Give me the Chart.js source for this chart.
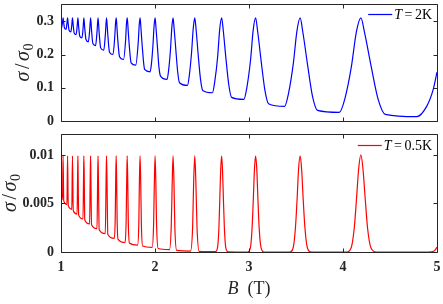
<!DOCTYPE html>
<html>
<head>
<meta charset="utf-8">
<script src="https://cdn.jsdelivr.net/npm/chart.js@4/dist/chart.umd.min.js"></script>
<style>
  html, body { margin: 0; padding: 0; background: #fff; }
  #wrap { position: relative; width: 443px; height: 304px; }
  canvas { position: absolute; left: 0; }
  #top { top: 0; }
  #bottom { top: 128px; }
</style>
</head>
<body>
<div id="wrap">
  <canvas id="top" width="443" height="128"></canvas>
  <canvas id="bottom" width="443" height="176"></canvas>
</div>
<script>
// Values: sigma/sigma0 against B (T)

// T = 2K panel
const bTop = [
  1.000, 1.008, 1.016, 1.022, 1.029, 1.037, 1.054, 1.063, 1.070, 1.077,
  1.086, 1.105, 1.115, 1.122, 1.130, 1.140, 1.161, 1.172, 1.180, 1.188,
  1.200, 1.223, 1.235, 1.243, 1.253, 1.266, 1.291, 1.305, 1.315, 1.325,
  1.339, 1.368, 1.383, 1.394, 1.406, 1.422, 1.455, 1.472, 1.484, 1.498,
  1.516, 1.553, 1.572, 1.580, 1.587, 1.593, 1.602, 1.623, 1.665, 1.688,
  1.696, 1.704, 1.711, 1.722, 1.746, 1.795, 1.822, 1.832, 1.841, 1.849,
  1.862, 1.890, 1.947, 1.962, 1.978, 1.990, 2.001, 2.010, 2.026, 2.042,
  2.059, 2.128, 2.145, 2.165, 2.179, 2.192, 2.203, 2.222, 2.242, 2.261,
  2.345, 2.365, 2.389, 2.407, 2.423, 2.437, 2.459, 2.484, 2.508, 2.611,
  2.636, 2.667, 2.688, 2.709, 2.726, 2.754, 2.785, 2.815, 2.946, 2.978,
  3.017, 3.044, 3.070, 3.092, 3.129, 3.169, 3.208, 3.378, 3.421, 3.472,
  3.509, 3.544, 3.573, 3.622, 3.675, 3.729, 3.960, 4.019, 4.090, 4.141,
  4.190, 4.230, 4.299, 4.374, 4.450, 4.785, 4.890, 4.960, 5.000
];
const sigmaTop = [
  0.275, 0.283, 0.296, 0.310, 0.295, 0.280, 0.276, 0.293, 0.310, 0.291,
  0.273, 0.268, 0.289, 0.310, 0.288, 0.265, 0.260, 0.285, 0.310, 0.283,
  0.255, 0.250, 0.279, 0.310, 0.278, 0.245, 0.238, 0.273, 0.310, 0.272,
  0.233, 0.227, 0.268, 0.310, 0.265, 0.220, 0.213, 0.260, 0.310, 0.259,
  0.207, 0.200, 0.254, 0.293, 0.310, 0.292, 0.252, 0.193, 0.185, 0.246,
  0.291, 0.310, 0.289, 0.243, 0.175, 0.168, 0.238, 0.288, 0.310, 0.286,
  0.233, 0.155, 0.148, 0.172, 0.227, 0.285, 0.310, 0.283, 0.223, 0.162,
  0.135, 0.125, 0.153, 0.216, 0.281, 0.310, 0.280, 0.213, 0.146, 0.115,
  0.107, 0.137, 0.206, 0.279, 0.310, 0.276, 0.201, 0.126, 0.092, 0.085,
  0.119, 0.195, 0.275, 0.310, 0.273, 0.190, 0.109, 0.071, 0.065, 0.102,
  0.185, 0.272, 0.310, 0.270, 0.181, 0.093, 0.052, 0.044, 0.084, 0.174,
  0.269, 0.310, 0.267, 0.171, 0.075, 0.032, 0.026, 0.066, 0.165, 0.266,
  0.310, 0.265, 0.165, 0.065, 0.020, 0.013, 0.044, 0.095, 0.147
];

// T = 0.5K panel
const bBottom = [
  1.000, 1.006, 1.016, 1.022, 1.029, 1.063, 1.070, 1.077, 1.115, 1.122,
  1.130, 1.171, 1.177, 1.180, 1.182, 1.188, 1.234, 1.240, 1.243, 1.247,
  1.253, 1.304, 1.311, 1.315, 1.318, 1.325, 1.383, 1.390, 1.394, 1.398,
  1.406, 1.471, 1.480, 1.484, 1.489, 1.498, 1.567, 1.577, 1.582, 1.587,
  1.592, 1.597, 1.607, 1.682, 1.693, 1.699, 1.704, 1.710, 1.716, 1.728,
  1.814, 1.828, 1.834, 1.841, 1.848, 1.855, 1.868, 1.970, 1.985, 1.993,
  2.001, 2.009, 2.017, 2.034, 2.154, 2.173, 2.183, 2.192, 2.202, 2.211,
  2.231, 2.377, 2.400, 2.411, 2.423, 2.435, 2.447, 2.471, 2.644, 2.665,
  2.680, 2.690, 2.699, 2.709, 2.718, 2.727, 2.738, 2.753, 2.776, 2.988,
  3.015, 3.033, 3.047, 3.058, 3.070, 3.083, 3.094, 3.108, 3.128, 3.158,
  3.434, 3.470, 3.494, 3.513, 3.527, 3.544, 3.560, 3.575, 3.595, 3.621,
  3.660, 4.037, 4.087, 4.120, 4.146, 4.167, 4.190, 4.212, 4.234, 4.261,
  4.297, 4.354, 4.900, 4.970, 5.000
];
const sigmaBottom = [
  0.0072, 0.0058, 0.0054, 0.0099, 0.0053, 0.0049, 0.0099, 0.0048, 0.0044, 0.0099,
  0.0043, 0.0039, 0.0081, 0.0099, 0.0081, 0.0038, 0.0034, 0.0079, 0.0099, 0.0079,
  0.0033, 0.0029, 0.0078, 0.0099, 0.0078, 0.0028, 0.0024, 0.0076, 0.0099, 0.0076,
  0.0023, 0.0019, 0.0075, 0.0099, 0.0075, 0.0018, 0.0014, 0.0035, 0.0074, 0.0099,
  0.0074, 0.0034, 0.0013, 0.00098, 0.0032, 0.0073, 0.0099, 0.0073, 0.0031, 0.00092,
  0.0007, 0.0030, 0.0072, 0.0099, 0.0072, 0.0029, 0.00062, 0.00048, 0.0028, 0.0071,
  0.0099, 0.0071, 0.0027, 0.00036, 0.00025, 0.0027, 0.0071, 0.0099, 0.0071, 0.0026,
  0.00016, 0.0001, 0.0025, 0.0071, 0.0099, 0.0071, 0.0025, 0.00006, 0.00003, 0.00044,
  0.0025, 0.0057, 0.0085, 0.0099, 0.0085, 0.0057, 0.0025, 0.00044, 0.00002, 0,
  0.00044, 0.0025, 0.0057, 0.0085, 0.0099, 0.0085, 0.0057, 0.0025, 0.00044, 0,
  0, 0.00044, 0.0025, 0.0057, 0.0085, 0.0099, 0.0085, 0.0057, 0.0025, 0.00044,
  0, 0, 0.00044, 0.0025, 0.0058, 0.0086, 0.0100, 0.0086, 0.0058, 0.0025,
  0.00044, 0, 0, 0.0001, 0.0005
];

const xTicks = [1, 2, 3, 4, 5];
const yTicksTop = [0, 0.1, 0.2, 0.3];
const yTicksBottom = [0, 0.005, 0.01];
const tempLabels = ['2K', '0.5K'];

const SERIF = '"Liberation Serif", "Times New Roman", serif';
const AXIS = '#262626';
Chart.defaults.font.family = SERIF;
Chart.defaults.color = AXIS;

// draw a run of text pieces with different fonts
function drawParts(ctx, parts, x, y, align) {
  let w = 0;
  parts.forEach(p => {
    ctx.font = p.font;
    p.w = ctx.measureText(p.text).width;
    w += p.w + (p.gap || 0);
  });
  let cx = align === 'center' ? x - w / 2 : (align === 'right' ? x - w : x);
  parts.forEach(p => {
    cx += p.gap || 0;
    ctx.font = p.font;
    ctx.fillText(p.text, cx, y + (p.dy || 0));
    cx += p.w;
  });
}

// MATLAB-like box, inward ticks, legend and labels
const framePlugin = {
  id: 'frame',
  afterDatasetsDraw(chart, args, opts) {
    const ctx = chart.ctx;
    const a = chart.chartArea;
    const xs = chart.scales.x, ys = chart.scales.y;
    const L = a.left + 0.5, R = a.right + 0.5, T = a.top + 0.5, B = a.bottom + 0.5;
    ctx.save();
    ctx.strokeStyle = AXIS;
    ctx.lineWidth = 1;
    ctx.beginPath();
    ctx.rect(L, T, R - L, B - T);
    xTicks.forEach(v => {
      const px = Math.round(xs.getPixelForValue(v)) + 0.5;
      ctx.moveTo(px, B); ctx.lineTo(px, B - 4);
      ctx.moveTo(px, T); ctx.lineTo(px, T + 4);
    });
    opts.yTicks.forEach(v => {
      const py = Math.round(ys.getPixelForValue(v)) + 0.5;
      ctx.moveTo(L, py); ctx.lineTo(L + 4, py);
      ctx.moveTo(R, py); ctx.lineTo(R - 4, py);
    });
    ctx.stroke();

    // legend
    ctx.fillStyle = '#000';
    ctx.textAlign = 'left';
    ctx.textBaseline = 'alphabetic';
    const lg = opts.legend;
    const parts = [
      { text: 'T', font: `italic 14px ${SERIF}` },
      { text: '=', font: `14px ${SERIF}`, gap: 2.5 },
      { text: lg.label, font: `14px ${SERIF}`, gap: 2.5 }
    ];
    drawParts(ctx, parts, lg.right, lg.baseline, 'right');
    const textW = parts.reduce((s, p) => s + p.w + (p.gap || 0), 0);
    ctx.strokeStyle = lg.color;
    ctx.lineWidth = 1.2;
    ctx.beginPath();
    ctx.moveTo(lg.right - textW - 26, lg.lineY);
    ctx.lineTo(lg.right - textW - 2, lg.lineY);
    ctx.stroke();

    // y title  sigma / sigma_0
    ctx.save();
    ctx.fillStyle = AXIS;
    ctx.translate(opts.titleX, (a.top + a.bottom) / 2);
    ctx.rotate(-Math.PI / 2);
    drawParts(ctx, [
      { text: 'σ', font: `italic 20px ${SERIF}` },
      { text: '/', font: `20px ${SERIF}`, gap: 2.5 },
      { text: 'σ', font: `italic 20px ${SERIF}`, gap: 2.5 },
      { text: '0', font: `14px ${SERIF}`, dy: 4, gap: 0.5 }
    ], 0, 0, 'center');
    ctx.restore();

    // x title
    if (opts.xTitle) {
      ctx.fillStyle = AXIS;
      drawParts(ctx, [
        { text: 'B', font: `italic 18px ${SERIF}` },
        { text: '(T)', font: `18px ${SERIF}`, gap: 9 }
      ], (a.left + a.right) / 2, opts.xTitleY, 'center');
    }
    ctx.restore();
  }
};

function makeChart(id, bVals, sVals, color, yMax, yTicks, showX, frameOpts, pad) {
  return new Chart(document.getElementById(id), {
    type: 'line',
    data: {
      datasets: [{
        data: bVals.map((b, i) => ({ x: b, y: sVals[i] })),
        borderColor: color,
        borderWidth: 1.2,
        pointRadius: 0,
        cubicInterpolationMode: 'monotone',
        fill: false
      }]
    },
    options: {
      responsive: false,
      animation: false,
      devicePixelRatio: 1,
      layout: { padding: pad },
      plugins: {
        legend: { display: false },
        tooltip: { enabled: false },
        frame: frameOpts
      },
      scales: {
        x: {
          type: 'linear',
          min: 1,
          max: 5,
          display: showX,
          grid: { display: false, drawTicks: false },
          border: { display: false },
          afterBuildTicks: s => { s.ticks = xTicks.map(v => ({ value: v })); },
          afterFit: s => { s.height = showX ? 52 : 0; s.paddingLeft = 0; s.paddingRight = 0; },
          ticks: {
            padding: 7,
            color: AXIS,
            font: { size: 14, weight: 'bold', family: SERIF },
            callback: v => String(v)
          }
        },
        y: {
          type: 'linear',
          min: 0,
          max: yMax,
          grid: { display: false, drawTicks: false },
          border: { display: false },
          afterBuildTicks: s => { s.ticks = yTicks.map(v => ({ value: v })); },
          afterFit: s => { s.width = 61; s.paddingTop = 0; s.paddingBottom = 0; },
          ticks: {
            padding: 7,
            color: AXIS,
            font: { size: 14, weight: 'bold', family: SERIF },
            callback: v => String(v)
          }
        }
      }
    },
    plugins: [framePlugin]
  });
}

makeChart('top', bTop, sigmaTop, '#0000ff', 0.352, yTicksTop, false, {
  yTicks: yTicksTop,
  titleX: 29,
  legend: { label: tempLabels[0], color: '#0000ff', right: 432, baseline: 18.5, lineY: 14.5 }
}, { top: 4, right: 6, bottom: 7, left: 0 });

makeChart('bottom', bBottom, sigmaBottom, '#ff0000', 0.01216, yTicksBottom, true, {
  yTicks: yTicksBottom,
  titleX: 16,
  xTitle: true,
  xTitleY: 166,
  legend: { label: tempLabels[1], color: '#ff0000', right: 432, baseline: 21.5, lineY: 17.5 }
}, { top: 6, right: 6, bottom: 0, left: 0 });
</script>
</body>
</html>
